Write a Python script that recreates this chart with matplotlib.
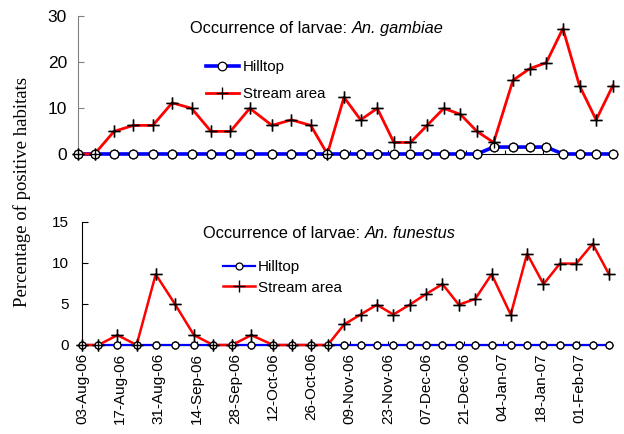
import matplotlib
matplotlib.use("Agg")
import matplotlib.pyplot as plt
import numpy as np
import pandas as pd

# sampling dates
sample_dates = ["2006-08-03", "2006-08-09", "2006-08-16", "2006-08-23", "2006-08-30",
                "2006-09-06", "2006-09-13", "2006-09-20", "2006-09-27", "2006-10-04",
                "2006-10-12", "2006-10-19", "2006-10-26", "2006-11-01", "2006-11-07",
                "2006-11-13", "2006-11-19", "2006-11-25", "2006-12-01", "2006-12-07",
                "2006-12-13", "2006-12-19", "2006-12-25", "2006-12-31", "2007-01-07",
                "2007-01-13", "2007-01-19", "2007-01-25", "2007-01-31", "2007-02-06",
                "2007-02-12"]

# An. gambiae (% positive habitats)
gamb_hill = [0, 0, 0, 0, 0, 0, 0, 0, 0, 0, 0, 0, 0, 0, 0, 0, 0, 0, 0, 0,
             0, 0, 0, 1.5, 1.5, 1.5, 1.5, 0, 0, 0, 0]
gamb_stream = [0, 0, 4.9, 6.2, 6.2, 11.1, 9.9, 4.9, 4.9, 9.9, 6.2, 7.4, 6.2, 0, 12.3,
               7.4, 9.9, 2.5, 2.5, 6.2, 9.9, 8.6, 4.9, 2.5, 16.0, 18.5, 19.8, 27.2,
               14.8, 7.4, 14.8]

# An. funestus
fun_hill = [0] * 31
fun_stream = [0, 0, 1.2, 0, 8.6, 5.0, 1.2, 0, 0, 1.2, 0, 0, 0, 0, 2.5,
              3.7, 4.9, 3.7, 4.9, 6.2, 7.4, 4.9, 5.6, 8.6, 3.7, 11.1, 7.4, 9.9,
              9.9, 12.3, 8.6]

tick_dates = pd.date_range("2006-08-03", periods=14, freq="14D")
tick_labels = [d.strftime("%d-%b-%y") for d in tick_dates]

dates = pd.to_datetime(sample_dates)

BLUE = "#0000ff"
RED = "#ff0000"
ARIAL = ["Liberation Sans", "DejaVu Sans"]

fig = plt.figure(figsize=(6.24, 4.34), dpi=100)
ax1 = fig.add_axes([0.125, 0.6452, 0.857, 0.3187])
ax2 = fig.add_axes([0.1314, 0.2051, 0.8446, 0.2841])


def draw_panel(ax, hill, stream, lw_blue, lw_red, ms_o, ms_p, spine_col):
    h1, = ax.plot(dates, hill, color=BLUE, lw=lw_blue, marker="o", mfc="white",
                  mec="black", mew=0.9, ms=ms_o, zorder=3, clip_on=False)
    h2, = ax.plot(dates, stream, color=RED, lw=lw_red, marker="+", mec="black",
                  mew=1.0, ms=ms_p, zorder=4, clip_on=False)
    # markers again on top of the lines
    ax.plot(dates, hill, ls="none", marker="o", mfc="white", mec="black", mew=0.9,
            ms=ms_o, zorder=5, clip_on=False)
    ax.plot(dates, stream, ls="none", marker="+", mec="black", mew=1.0,
            ms=ms_p, zorder=6, clip_on=False)
    ax.set_xlim(dates[0], dates[-1])
    ax.spines["top"].set_visible(False)
    ax.spines["right"].set_visible(False)
    ax.spines["left"].set_color(spine_col)
    ax.spines["bottom"].set_color("black")
    ax.spines["bottom"].set_zorder(1)
    ax.set_xticks(tick_dates)
    ax.tick_params(axis="x", direction="in", length=3, width=0.8)
    ax.tick_params(axis="y", direction="in", length=4, width=0.8, colors=spine_col,
                   labelcolor="black")
    return h1, h2


# top panel: An. gambiae
h1, h2 = draw_panel(ax1, gamb_hill, gamb_stream, 2.6, 2.0, 6.2, 9, "#808080")
ax1.set_ylim(0, 30)
ax1.set_yticks([0, 10, 20, 30])
ax1.set_xticklabels([])
ax1.tick_params(axis="y", pad=8)
for lab in ax1.get_yticklabels():
    lab.set_family(ARIAL)
    lab.set_fontsize(12.5)
ax1.legend([h1, h2], ["Hilltop", "Stream area"], loc="upper left",
           bbox_to_anchor=(0.330, 0.861), bbox_transform=fig.transFigure,
           frameon=False, borderpad=0, borderaxespad=0, handlelength=2.2,
           handletextpad=0.25, labelspacing=0.85, numpoints=1,
           prop={"family": ARIAL, "size": 10.8})

t1 = fig.text(0.3045, 0.923, "Occurrence of larvae:", family=ARIAL, fontsize=11.8,
              ha="left", va="baseline")
ax1.annotate("An. gambiae", xy=(1, 0), xycoords=t1, xytext=(3.3, 0),
             textcoords="offset points", family=ARIAL, style="italic",
             fontsize=11.8, ha="left", va="bottom", annotation_clip=False)

# bottom panel: An. funestus
g1, g2 = draw_panel(ax2, fun_hill, fun_stream, 1.6, 1.8, 5, 8, "black")
ax2.set_ylim(0, 15)
ax2.set_yticks([0, 5, 10, 15])
ax2.set_xticklabels(tick_labels, rotation=90, family=ARIAL, fontsize=11)
ax2.tick_params(axis="x", pad=5.5)
ax2.tick_params(axis="y", pad=9.5)
for lab in ax2.get_yticklabels():
    lab.set_family(ARIAL)
    lab.set_fontsize(11)
ax2.legend([g1, g2], ["Hilltop", "Stream area"], loc="upper left",
           bbox_to_anchor=(0.357, 0.401), bbox_transform=fig.transFigure,
           frameon=False, borderpad=0, borderaxespad=0, handlelength=2.1,
           handletextpad=0.2, labelspacing=0.45, numpoints=1,
           prop={"family": ARIAL, "size": 11})

t2 = fig.text(0.325, 0.451, "Occurrence of larvae:", family=ARIAL, fontsize=11.8,
              ha="left", va="baseline")
ax2.annotate("An. funestus", xy=(1, 0), xycoords=t2, xytext=(3.3, 0),
             textcoords="offset points", family=ARIAL, style="italic",
             fontsize=11.8, ha="left", va="bottom", annotation_clip=False)

fig.text(0.035, 1 - 192 / 434, "Percentage of positive habitats", rotation=90,
         family=["Liberation Serif", "DejaVu Serif"], fontsize=13.5,
         ha="center", va="center")

fig.savefig("out.png", dpi=100)
